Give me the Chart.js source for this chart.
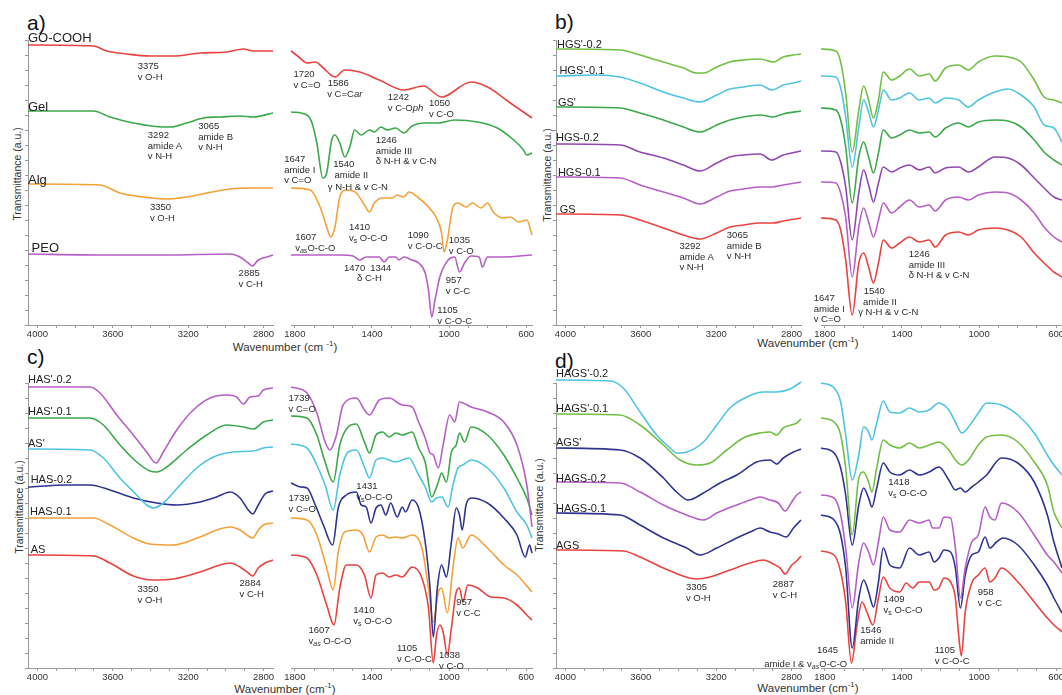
<!DOCTYPE html>
<html>
<head>
<meta charset="utf-8">
<script src="https://cdn.jsdelivr.net/npm/chart.js@4.4.1/dist/chart.umd.min.js"></script>
<style>
html, body { margin: 0; padding: 0; background: #fff; }
body { width: 1062px; height: 695px; position: relative; overflow: hidden; font-family: 'Liberation Sans', Arial, sans-serif; color: #222; }
.plot { position: absolute; }
.plot canvas { display: block; }
.note { position: absolute; font-size: 9.5px; line-height: 10.5px; white-space: nowrap; color: #2b2b2b; }
.note sub { font-size: 7px; vertical-align: -2px; line-height: 0; }
.name { position: absolute; font-size: 11px; line-height: 12px; white-space: nowrap; color: #222; }
.name.big { font-size: 13px; line-height: 14px; }
.letter { position: absolute; font-size: 21px; line-height: 21px; color: #111; }
.ytitle { position: absolute; font-size: 10.5px; white-space: nowrap; transform: translate(-50%, -50%) rotate(-90deg); color: #333; }
.xtitle { position: absolute; font-size: 11.5px; white-space: nowrap; transform: translate(-50%, -50%); color: #333; }
.xtitle sup { font-size: 8px; }
</style>
</head>
<body>
<div class="letter" style="left:27px;top:12px">a)</div>
<div class="letter" style="left:555px;top:11px">b)</div>
<div class="letter" style="left:27px;top:346px">c)</div>
<div class="letter" style="left:555px;top:350px">d)</div>
<div class="ytitle" style="left:17px;top:174px">Transmittance (a.u.)</div>
<div class="ytitle" style="left:547px;top:175px">Transmittance (a.u.)</div>
<div class="ytitle" style="left:19px;top:507px">Transmittance (a.u.)</div>
<div class="ytitle" style="left:539px;top:505px">Transmittance (a.u.)</div>
<div class="xtitle" style="left:285px;top:346px">Wavenumber (cm <sup>-1</sup>)</div>
<div class="xtitle" style="left:808px;top:342px">Wavenumber (cm<sup>-1</sup>)</div>
<div class="xtitle" style="left:285px;top:688px">Wavenumber (cm<sup>-1</sup>)</div>
<div class="xtitle" style="left:808px;top:687px">Wavenumber (cm<sup>-1</sup>)</div>
<script>
// tick labels of the two broken-axis halves, and where the small tick marks go
const hiTicks = [4000, 3600, 3200, 2800];
const loTicks = [1800, 1400, 1000, 600];
const hiMarks = [4000, 3900, 3800, 3700, 3600, 3500, 3400, 3300, 3200, 3100, 3000, 2900, 2800];
const loMarks = [1800, 1700, 1600, 1500, 1400, 1300, 1200, 1100, 1000, 900, 800, 700, 600];

// ---- a) [wavenumber, transmittance a.u.]
const gocoohHi = [[4050,280],[3703,279],[3632,274],[3526,271],[3402,269],[3279,269],[3137,272],[2996,273],[2907,276],[2854,274],[2750,274]];
const gelHi = [[4050,214],[3703,214],[3615,208],[3491,202],[3332,198],[3296,198],[3208,202],[3120,207],[3031,208],[2925,209],[2854,208],[2750,212]];
const algHi = [[4050,141],[3668,140],[3562,132],[3438,128],[3314,126],[3208,128],[3102,132],[2978,136],[2854,137],[2750,137]];
const peoHi = [[4050,71],[3668,70],[3314,70],[2978,71],[2925,68],[2881,62],[2860,59],[2828,65],[2783,68],[2750,70]];

const gocoohLo = [[1820,274],[1779,268],[1737,262],[1694,263],[1652,257],[1592,248],[1541,255],[1464,253],[1362,245],[1235,235],[1133,239],[1039,228],[886,243],[801,238],[682,222],[570,207]];
const gelLo = [[1820,213],[1737,210],[1711,202],[1686,182],[1655,147],[1635,152],[1609,185],[1592,190],[1567,182],[1541,168],[1515,178],[1490,195],[1456,190],[1413,195],[1388,193],[1354,198],[1320,195],[1277,197],[1235,192],[1192,199],[1124,202],[1056,202],[971,205],[852,203],[750,197],[665,185],[614,175],[597,170],[570,172]];
const algLo = [[1820,137],[1720,135],[1669,118],[1635,98],[1614,88],[1592,98],[1567,128],[1533,135],[1481,132],[1439,120],[1413,113],[1388,122],[1345,127],[1294,127],[1269,130],[1235,128],[1209,133],[1158,127],[1107,118],[1065,107],[1039,92],[1026,73],[1009,85],[980,118],[954,122],[912,118],[878,122],[835,117],[801,122],[767,112],[716,107],[682,108],[639,103],[597,105],[570,90]];
const peoLo = [[1820,70],[1567,70],[1498,69],[1464,65],[1430,68],[1362,68],[1337,63],[1311,68],[1277,68],[1260,65],[1235,68],[1192,65],[1158,62],[1124,52],[1107,35],[1090,8],[1073,25],[1048,48],[1005,65],[971,68],[946,53],[920,62],[886,69],[844,68],[827,58],[801,68],[716,68],[570,70]];

// ---- b)
const hgs2pHi = [[4050,276],[3710,275],[3604,270],[3480,263],[3374,257],[3304,252],[3268,252],[3197,258],[3127,263],[3056,265],[2967,266],[2897,263],[2844,268],[2790,270],[2750,271]];
const hgs1pHi = [[4050,249],[3834,250],[3710,248],[3604,242],[3480,233],[3374,227],[3286,223],[3197,230],[3127,236],[3056,238],[2967,240],[2905,235],[2844,240],[2790,242],[2750,244]];
const gspHi = [[4050,218],[3710,217],[3604,212],[3480,205],[3374,198],[3286,193],[3197,200],[3127,205],[3056,208],[2967,210],[2897,208],[2844,211],[2750,214]];
const hgs2Hi = [[4050,181],[3710,180],[3604,173],[3480,167],[3374,160],[3286,154],[3197,162],[3127,168],[3056,170],[2967,171],[2905,165],[2844,170],[2750,174]];
const hgs1Hi = [[4050,148],[3710,147],[3604,140],[3480,133],[3374,127],[3286,121],[3197,128],[3127,134],[3056,136],[2967,138],[2905,138],[2844,140],[2750,143]];
const gsHi = [[4050,111],[3710,110],[3604,105],[3480,97],[3374,90],[3286,86],[3197,92],[3127,98],[3056,100],[2967,102],[2897,102],[2844,104],[2750,107]];

const bLoWn = [1820,1743,1718,1692,1658,1624,1599,1573,1548,1522,1497,1454,1412,1361,1310,1259,1228,1174,1106,1055,1004,918,850,782,714,663,612,570];
const hgs2pLo = [276,274,263,232,173,215,239,225,207,225,253,245,249,256,249,251,244,257,260,255,263,269,268,263,245,228,225,222];
const hgs1pLo = [249,248,237,208,158,198,225,213,198,215,235,225,227,232,225,227,222,227,225,218,225,233,236,230,218,200,197,183];
const gspLo = [217,215,205,178,122,168,183,168,152,172,195,187,190,195,192,193,188,197,202,198,203,205,204,198,185,173,165,160];
const hgs2Lo = [174,173,163,138,85,132,155,140,123,142,158,153,157,160,155,158,152,157,158,153,158,168,167,160,147,137,128,125];
const hgs1Lo = [143,142,132,108,48,98,117,103,88,105,122,112,118,125,118,120,114,125,128,125,130,133,132,125,112,98,88,83];
const gsLo = [107,105,95,65,10,62,72,58,42,62,85,77,82,88,83,85,78,90,93,90,95,97,95,88,72,62,53,48];

// ---- c)
const has2pHi = [[4050,281],[3721,281],[3668,275],[3579,253],[3491,233],[3420,216],[3371,205],[3332,216],[3261,238],[3173,258],[3084,270],[2996,273],[2943,271],[2907,264],[2872,271],[2828,272],[2801,278],[2750,280]];
const has1pHi = [[4050,250],[3721,250],[3650,243],[3562,223],[3473,206],[3403,197],[3367,196],[3314,201],[3208,218],[3102,233],[2996,243],[2907,241],[2854,239],[2801,246],[2750,248]];
const aspHi = [[4050,219],[3721,218],[3650,210],[3562,190],[3473,173],[3420,163],[3385,160],[3332,165],[3243,183],[3155,200],[3066,211],[2960,216],[2854,217],[2801,220],[2750,221]];
const has2Hi = [[4050,181],[3845,183],[3721,183],[3615,178],[3491,170],[3367,165],[3261,163],[3137,166],[3049,171],[2978,176],[2925,170],[2881,158],[2858,154],[2828,163],[2792,174],[2750,177]];
const has1Hi = [[4050,150],[3703,150],[3615,143],[3491,130],[3403,124],[3279,123],[3137,131],[3049,138],[2978,141],[2925,138],[2881,132],[2858,130],[2828,138],[2801,143],[2750,145]];
const asHi = [[4050,113],[3703,112],[3615,105],[3491,92],[3385,88],[3279,89],[3137,96],[3049,102],[2978,105],[2925,101],[2881,95],[2858,92],[2828,100],[2792,105],[2750,108]];

const has2pLo = [[1820,281],[1737,275],[1686,255],[1643,226],[1618,218],[1584,233],[1550,263],[1481,270],[1439,258],[1413,253],[1362,268],[1311,270],[1243,263],[1192,261],[1158,246],[1124,230],[1099,215],[1082,213],[1056,200],[1031,223],[997,253],[971,246],[946,266],[886,261],[801,256],[716,246],[648,223],[597,183],[570,141]];
const has1pLo = [[1820,252],[1737,250],[1686,233],[1643,206],[1601,186],[1567,223],[1524,241],[1481,244],[1439,226],[1413,215],[1379,233],[1345,236],[1311,231],[1277,235],[1243,233],[1192,236],[1158,220],[1124,206],[1090,171],[1056,186],[1039,195],[1014,186],[988,216],[963,223],[946,235],[920,226],[886,241],[801,233],[716,213],[648,190],[597,170],[570,153]];
const aspLo = [[1820,224],[1737,220],[1686,203],[1643,183],[1601,158],[1567,193],[1524,216],[1481,218],[1439,201],[1413,190],[1379,208],[1345,210],[1277,206],[1209,210],[1158,193],[1124,181],[1090,166],[1065,170],[1039,171],[1005,161],[980,183],[954,200],[929,203],[886,208],[801,200],[716,180],[648,156],[597,143],[570,130]];
const has2Lo = [[1820,185],[1771,181],[1737,180],[1694,163],[1652,143],[1604,123],[1575,160],[1533,173],[1481,176],[1456,163],[1430,161],[1405,145],[1379,160],[1354,163],[1328,153],[1303,165],[1269,151],[1243,161],[1226,156],[1192,168],[1158,160],[1124,126],[1099,80],[1082,31],[1061,80],[1039,103],[1014,91],[988,126],[963,160],[946,153],[932,138],[912,163],[886,170],[801,165],[716,150],[648,133],[605,111],[583,123],[570,115]];
const has1Lo = [[1820,150],[1737,148],[1686,133],[1635,100],[1601,78],[1575,116],[1541,136],[1481,138],[1447,133],[1413,116],[1379,131],[1345,133],[1311,130],[1277,131],[1243,130],[1192,133],[1141,120],[1107,80],[1082,46],[1056,76],[1039,80],[1009,55],[980,100],[954,130],[929,120],[886,133],[801,120],[716,103],[648,93],[570,76]];
const asLo = [[1820,113],[1737,110],[1686,93],[1635,63],[1597,43],[1567,80],[1533,103],[1481,103],[1439,93],[1405,70],[1379,93],[1345,95],[1311,91],[1277,93],[1243,91],[1192,101],[1141,90],[1107,60],[1082,5],[1065,33],[1048,43],[1031,36],[1009,13],[988,40],[963,76],[946,80],[929,66],[903,83],[852,80],[784,71],[716,70],[648,63],[597,53],[570,48]];

// ---- d)
const hags2pHi = [[4050,288],[3763,287],[3693,280],[3604,256],[3516,233],[3445,220],[3410,215],[3357,216],[3268,226],[3197,243],[3127,260],[3038,271],[2950,276],[2879,276],[2808,279],[2750,286]];
const hags1pHi = [[4050,254],[3710,253],[3604,243],[3480,223],[3392,208],[3304,203],[3233,205],[3144,218],[3056,230],[2967,235],[2914,236],[2879,233],[2844,240],[2773,245],[2750,249]];
const agspHi = [[4050,220],[3710,218],[3604,210],[3480,190],[3410,176],[3348,168],[3268,175],[3180,185],[3091,193],[2985,206],[2914,208],[2879,204],[2844,210],[2790,216],[2750,219]];
const hags2Hi = [[4050,186],[3710,185],[3604,176],[3480,163],[3357,153],[3268,148],[3197,155],[3091,163],[3020,168],[2967,171],[2914,168],[2870,165],[2835,157],[2799,166],[2773,173],[2750,176]];
const hags1Hi = [[4050,155],[3710,153],[3604,143],[3480,130],[3357,120],[3286,113],[3197,120],[3091,130],[3020,136],[2967,140],[2914,136],[2870,134],[2829,131],[2790,140],[2750,148]];
const agsHi = [[4050,118],[3693,117],[3604,111],[3480,100],[3392,93],[3304,89],[3233,91],[3127,98],[3020,105],[2950,108],[2897,104],[2861,100],[2835,94],[2799,103],[2773,107],[2750,112]];

const hags2pLo = [[1820,285],[1752,280],[1718,266],[1692,233],[1658,188],[1624,213],[1599,241],[1573,236],[1556,228],[1531,245],[1497,267],[1463,256],[1412,255],[1361,260],[1310,256],[1259,258],[1208,265],[1157,258],[1123,246],[1089,235],[1055,241],[1004,255],[961,265],[884,263],[799,253],[714,235],[646,213],[612,203],[570,193]];
const hags1pLo = [[1820,250],[1752,246],[1718,233],[1692,200],[1658,133],[1624,190],[1599,196],[1573,186],[1556,176],[1531,200],[1497,228],[1463,223],[1412,220],[1361,225],[1310,220],[1259,223],[1208,226],[1157,218],[1123,208],[1089,203],[1055,208],[1004,223],[961,231],[884,233],[799,226],[714,206],[646,183],[612,156],[570,140]];
const agspLo = [[1820,220],[1752,215],[1718,200],[1692,173],[1658,123],[1624,163],[1599,180],[1573,170],[1556,161],[1531,180],[1497,205],[1463,196],[1412,193],[1361,198],[1310,193],[1259,196],[1208,201],[1157,188],[1123,178],[1097,180],[1072,176],[1038,181],[1004,186],[961,193],[884,210],[799,205],[714,186],[646,153],[612,126],[570,100]];
const hags2Lo = [[1820,173],[1752,170],[1718,153],[1692,120],[1658,60],[1624,106],[1599,125],[1573,116],[1548,103],[1522,126],[1497,151],[1463,138],[1412,136],[1361,148],[1310,145],[1259,148],[1242,140],[1208,140],[1182,151],[1148,150],[1123,120],[1097,70],[1072,100],[1038,126],[1004,133],[969,161],[944,151],[918,148],[884,165],[799,156],[714,133],[646,113],[612,106],[570,95]];
const hags1Lo = [[1820,153],[1752,148],[1718,133],[1692,100],[1658,20],[1624,70],[1599,88],[1573,76],[1548,61],[1522,86],[1497,120],[1463,103],[1412,100],[1361,120],[1310,113],[1259,116],[1233,106],[1208,110],[1182,118],[1148,116],[1123,100],[1097,60],[1072,93],[1038,113],[1004,116],[969,131],[944,120],[910,126],[876,130],[799,123],[714,103],[646,83],[612,70],[570,55]];
const agsLo = [[1820,117],[1752,113],[1718,96],[1692,66],[1662,5],[1633,43],[1607,66],[1582,56],[1551,43],[1522,70],[1497,91],[1463,80],[1412,76],[1378,85],[1344,80],[1310,86],[1259,86],[1233,78],[1208,80],[1182,90],[1148,86],[1123,70],[1106,33],[1092,12],[1072,56],[1038,85],[1004,93],[969,100],[944,86],[918,90],[884,100],[799,86],[714,66],[646,50],[612,43],[570,36]];

// ---- labels: [wavenumber, a.u.] of the first text line
const aHiNotes = [
  { x: 4050, y: 287, t: ['GO-COOH'], a: 'l', n: 'big' },
  { x: 4050, y: 218, t: ['Gel'], a: 'l', n: 'big' },
  { x: 4050, y: 145, t: ['Alg'], a: 'l', n: 'big' },
  { x: 4031, y: 77, t: ['PEO'], a: 'l', n: 'big' },
  { x: 3402, y: 259, t: ['3375', 'v O-H'] },
  { x: 3323, y: 190, t: ['3292', 'amide A', 'v N-H'] },
  { x: 3054, y: 199, t: ['3065', 'amide B', 'v N-H'] },
  { x: 3337, y: 118, t: ['3350', 'v O-H'] },
  { x: 2868, y: 52, t: ['2885', 'v C-H'] }
];
const aLoNotes = [
  { x: 1737, y: 251, t: ['1720', 'v C=O'] },
  { x: 1575, y: 242, t: ['1586'] },
  { x: 1541, y: 231, t: ['v C=C<i>ar</i>'] },
  { x: 1226, y: 228, t: ['1242', 'v C-O<i>ph</i>'] },
  { x: 1040, y: 222, t: ['1050', 'v C-O'] },
  { x: 1694, y: 166, t: ['1647', 'amide I', 'v C=O'], a: 'r' },
  { x: 1546, y: 161, t: ['1540'] },
  { x: 1507, y: 150, t: ['amide II'] },
  { x: 1473, y: 138, t: ['γ N-H &amp; v C-N'] },
  { x: 1223, y: 185, t: ['1246', 'amide III', 'δ N-H &amp; v C-N'] },
  { x: 1694, y: 88, t: ['1607', 'v<sub><i>as</i></sub>O-C-O'] },
  { x: 1419, y: 98, t: ['1410', 'v<sub>s</sub> O-C-O'] },
  { x: 1124, y: 90, t: ['1090', 'v C-O-C'] },
  { x: 937, y: 85, t: ['1035', 'v C-O'] },
  { x: 1490, y: 57, t: ['1470'] },
  { x: 1354, y: 57, t: ['1344'] },
  { x: 1413, y: 47, t: ['δ C-H'] },
  { x: 954, y: 45, t: ['957', 'v C-C'] },
  { x: 1061, y: 15, t: ['1105', 'v C-O-C'], a: 'l' }
];
const bHiNotes = [
  { x: 4045, y: 281, t: ["HGS'-0.2"], a: 'l', n: '' },
  { x: 4032, y: 255, t: ["HGS'-0.1"], a: 'l', n: '' },
  { x: 4040, y: 223, t: ["GS'"], a: 'l', n: '' },
  { x: 4050, y: 188, t: ['HGS-0.2'], a: 'l', n: '' },
  { x: 4040, y: 153, t: ['HGS-0.1'], a: 'l', n: '' },
  { x: 4030, y: 116, t: ['GS'], a: 'l', n: '' },
  { x: 3304, y: 79, t: ['3292', 'amide A', 'v N-H'] },
  { x: 3051, y: 90, t: ['3065', 'amide B', 'v N-H'] }
];
const bLoNotes = [
  { x: 1777, y: 27, t: ['1647', 'amide I', 'v C=O'] },
  { x: 1544, y: 34, t: ['1540'] },
  { x: 1514, y: 23, t: ['amide II'] },
  { x: 1471, y: 13, t: ['γ N-H &amp; v C-N'] },
  { x: 1208, y: 71, t: ['1246', 'amide III', 'δ N-H &amp; v C-N'] }
];
const cHiNotes = [
  { x: 4050, y: 289, t: ["HAS'-0.2"], a: 'l', n: '' },
  { x: 4050, y: 257, t: ["HAS'-0.1"], a: 'l', n: '' },
  { x: 4050, y: 225, t: ["AS'"], a: 'l', n: '' },
  { x: 4036, y: 189, t: ['HAS-0.2'], a: 'l', n: '' },
  { x: 4039, y: 157, t: ['HAS-0.1'], a: 'l', n: '' },
  { x: 4036, y: 119, t: ['AS'], a: 'l', n: '' },
  { x: 3403, y: 79, t: ['3350', 'v O-H'] },
  { x: 2863, y: 85, t: ['2884', 'v C-H'] }
];
const cLoNotes = [
  { x: 1762, y: 270, t: ['1739', 'v C=O'] },
  { x: 1762, y: 170, t: ['1739', 'v C=O'] },
  { x: 1481, y: 182, t: ['1431', 'v<sub>s</sub>O-C-O'], a: 'l' },
  { x: 1396, y: 58, t: ['1410', 'v<sub>s</sub> O-C-O'] },
  { x: 1618, y: 38, t: ['1607', 'v<sub><i>as</i></sub> O-C-O'] },
  { x: 1180, y: 20, t: ['1105', 'v C-O-C'] },
  { x: 988, y: 13, t: ['1038', 'v C-O'] },
  { x: 963, y: 66, t: ['957', 'v C-C'], a: 'l' }
];
const dHiNotes = [
  { x: 4050, y: 295, t: ["HAGS'-0.2"], a: 'l', n: '' },
  { x: 4050, y: 260, t: ["HAGS'-0.1"], a: 'l', n: '' },
  { x: 4050, y: 226, t: ["AGS'"], a: 'l', n: '' },
  { x: 4050, y: 190, t: ['HAGS-0.2'], a: 'l', n: '' },
  { x: 4050, y: 160, t: ['HAGS-0.1'], a: 'l', n: '' },
  { x: 4050, y: 123, t: ['AGS'], a: 'l', n: '' },
  { x: 3295, y: 81, t: ['3305', 'v O-H'] },
  { x: 2835, y: 84, t: ['2887', 'v C-H'] }
];
const dLoNotes = [
  { x: 1471, y: 186, t: ['1418', 'v<sub>s</sub> O-C-O'], a: 'l' },
  { x: 1395, y: 69, t: ['1409', 'v<sub>s</sub> O-C-O'] },
  { x: 1616, y: 38, t: ['1546', 'amide II'], a: 'l' },
  { x: 1786, y: 18, t: ['1645'] },
  { x: 1684, y: 4, t: ['amide I &amp; v<sub><i>as</i></sub>O-C-O'], a: 'r' },
  { x: 1140, y: 18, t: ['1105', 'v C-O-C'] },
  { x: 944, y: 76, t: ['958', 'v C-C'] }
];

const RED = '#e8433f', GREEN = '#3ba84b', LGREEN = '#72bf44', ORANGE = '#f5a13a',
      MAGENTA = '#b65fc6', PURPLE = '#8f48b0', CYAN = '#4fc4e2', NAVY = '#2f3492';

const withX = (xs, ys) => xs.map((w, i) => [w, ys[i]]);

const plots = [
  { left: 28, top: 40, hi: true, lines: [[gocoohHi, RED], [gelHi, GREEN], [algHi, ORANGE], [peoHi, MAGENTA]], notes: aHiNotes },
  { left: 287, top: 40, hi: false, lines: [[gocoohLo, RED], [gelLo, GREEN], [algLo, ORANGE], [peoLo, MAGENTA]], notes: aLoNotes },
  { left: 556, top: 40, hi: true, lines: [[hgs2pHi, LGREEN], [hgs1pHi, CYAN], [gspHi, GREEN], [hgs2Hi, PURPLE], [hgs1Hi, MAGENTA], [gsHi, RED]], notes: bHiNotes },
  { left: 817, top: 40, hi: false, lines: [[withX(bLoWn, hgs2pLo), LGREEN], [withX(bLoWn, hgs1pLo), CYAN], [withX(bLoWn, gspLo), GREEN], [withX(bLoWn, hgs2Lo), PURPLE], [withX(bLoWn, hgs1Lo), MAGENTA], [withX(bLoWn, gsLo), RED]], notes: bLoNotes },
  { left: 28, top: 383, hi: true, lines: [[has2pHi, MAGENTA], [has1pHi, GREEN], [aspHi, CYAN], [has2Hi, NAVY], [has1Hi, ORANGE], [asHi, RED]], notes: cHiNotes },
  { left: 287, top: 383, hi: false, lines: [[has2pLo, MAGENTA], [has1pLo, GREEN], [aspLo, CYAN], [has2Lo, NAVY], [has1Lo, ORANGE], [asLo, RED]], notes: cLoNotes },
  { left: 556, top: 383, hi: true, lines: [[hags2pHi, CYAN], [hags1pHi, LGREEN], [agspHi, NAVY], [hags2Hi, MAGENTA], [hags1Hi, NAVY], [agsHi, RED]], notes: dHiNotes },
  { left: 817, top: 383, hi: false, lines: [[hags2pLo, CYAN], [hags1pLo, LGREEN], [agspLo, NAVY], [hags2Lo, MAGENTA], [hags1Lo, NAVY], [agsLo, RED]], notes: dLoNotes }
];

const W = 245, H = 285, PAD = 10, PADT = 6, XAX = 26;
const FONT = "'Liberation Sans', Arial, sans-serif";

function notesPlugin(items) {
  return {
    id: 'notes',
    afterRender(chart) {
      if (chart.$notesDone) return;
      chart.$notesDone = true;
      const box = chart.canvas.parentNode;
      const xs = chart.scales.x, ys = chart.scales.y;
      for (const n of items) {
        const d = document.createElement('div');
        d.className = n.n !== undefined ? ('name ' + n.n) : 'note';
        d.innerHTML = n.t.join('<br>');
        d.style.left = xs.getPixelForValue(n.x) + 'px';
        d.style.top = ys.getPixelForValue(n.y) + 'px';
        const tx = n.a === 'l' ? '0' : n.a === 'r' ? '-100%' : '-50%';
        const ty = n.n !== undefined ? '-50%' : '-5.25px';
        d.style.transform = 'translate(' + tx + ',' + ty + ')';
        box.appendChild(d);
      }
    }
  };
}

plots.forEach(p => {
  const box = document.createElement('div');
  box.className = 'plot';
  box.style.left = (p.left - PAD) + 'px';
  box.style.top = (p.top - PADT) + 'px';
  const cv = document.createElement('canvas');
  const cw = W + 2 * PAD, ch = H + PADT + XAX;
  cv.width = cw; cv.height = ch;
  cv.style.width = cw + 'px'; cv.style.height = ch + 'px';
  box.appendChild(cv);
  document.body.appendChild(box);

  const tickSet = p.hi ? hiTicks : loTicks;
  const marks = p.hi ? hiMarks : loMarks;
  new Chart(cv, {
    type: 'line',
    data: {
      datasets: p.lines.map(([pts, color]) => ({
        data: pts.map(q => ({ x: q[0], y: q[1] })),
        borderColor: color,
        borderWidth: 1.6,
        pointRadius: 0,
        fill: false,
        clip: false,
        cubicInterpolationMode: 'monotone'
      }))
    },
    options: {
      responsive: false,
      animation: false,
      events: [],
      layout: { padding: { left: p.hi ? PAD - 4 : PAD, right: PAD, top: PADT, bottom: 0 } },
      plugins: { legend: { display: false }, tooltip: { enabled: false } },
      scales: {
        x: {
          type: 'linear',
          reverse: true,
          min: p.hi ? 2750 : 570,
          max: p.hi ? 4050 : 1820,
          afterBuildTicks: s => { s.ticks = marks.map(v => ({ value: v })); },
          afterFit: s => { s.height = XAX; },
          border: { display: true, color: '#9a9a9a', dash: [2, 2] },
          grid: { display: true, drawOnChartArea: false, drawTicks: true, tickLength: 3, color: '#9a9a9a' },
          ticks: {
            autoSkip: false,
            maxRotation: 0,
            padding: 1,
            color: '#333',
            font: { size: 9.5, family: FONT },
            callback: v => tickSet.includes(v) ? String(v) : ''
          }
        },
        y: {
          display: p.hi,
          min: 0,
          max: H,
          afterFit: s => { s.width = 4; },
          border: { display: true, color: '#9a9a9a', dash: [2, 2] },
          grid: { display: true, drawOnChartArea: false, drawTicks: true, tickLength: 3, color: '#9a9a9a' },
          ticks: { display: false, stepSize: 15 }
        }
      }
    },
    plugins: [notesPlugin(p.notes)]
  });
});
</script>
</body>
</html>
